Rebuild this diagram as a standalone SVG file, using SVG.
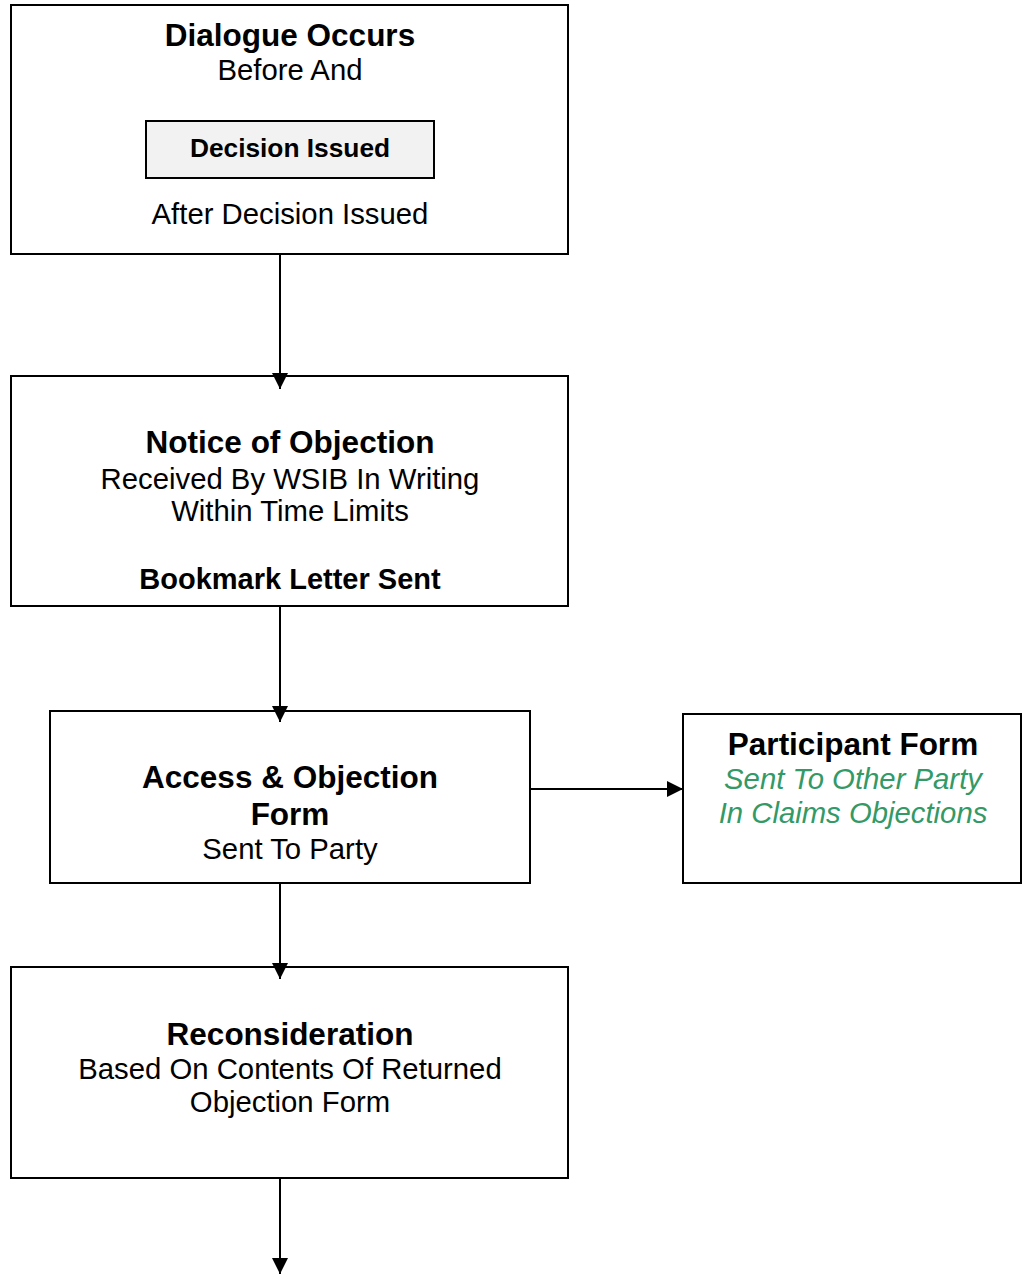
<svg xmlns="http://www.w3.org/2000/svg" width="1028" height="1274" viewBox="0 0 1028 1274">
<style>
.box{fill:#fff;stroke:#000;stroke-width:2}
.inner{fill:#f2f2f2;stroke:#000;stroke-width:2}
text{font-family:"Liberation Sans",Arial,sans-serif;text-anchor:middle;fill:#000}
.h{font-weight:bold;font-size:31.5px}
.r{font-size:29.3px}
.b{font-weight:bold;font-size:29px}
.ib{font-weight:bold;font-size:26.3px}
.g{font-style:italic;font-size:29.3px;fill:#339966}
.c{stroke:#000;stroke-width:2;fill:none}
</style>
<defs>
<marker id="ah" markerWidth="16" markerHeight="16" refX="16" refY="8" orient="auto" markerUnits="userSpaceOnUse">
<path d="M0,0 L16,8 L0,16 Z" fill="#000"/>
</marker>
</defs>
<g id="dialogue">
<rect class="box" x="11" y="5" width="557" height="249"/>
<text class="h" x="290" y="46">Dialogue Occurs</text>
<text class="r" x="290" y="80">Before And</text>
<g id="decision">
<rect class="inner" x="146" y="121" width="288" height="57"/>
<text class="ib" x="290" y="157">Decision Issued</text>
</g>
<text class="r" x="290" y="224">After Decision Issued</text>
</g>
<g id="notice">
<rect class="box" x="11" y="376" width="557" height="230"/>
<text class="h" x="290" y="453">Notice of Objection</text>
<text class="r" x="290" y="489">Received By WSIB In Writing</text>
<text class="r" x="290" y="521">Within Time Limits</text>
<text class="b" x="290" y="589">Bookmark Letter Sent</text>
</g>
<g id="access">
<rect class="box" x="50" y="711" width="480" height="172"/>
<text class="h" x="290" y="788">Access &amp; Objection</text>
<text class="h" x="290" y="825">Form</text>
<text class="r" x="290" y="859">Sent To Party</text>
</g>
<g id="participant">
<rect class="box" x="683" y="714" width="338" height="169"/>
<text class="h" x="853" y="755">Participant Form</text>
<text class="g" x="853" y="789">Sent To Other Party</text>
<text class="g" x="853" y="823">In Claims Objections</text>
</g>
<g id="reconsideration">
<rect class="box" x="11" y="967" width="557" height="211"/>
<text class="h" x="290" y="1045">Reconsideration</text>
<text class="r" x="290" y="1079">Based On Contents Of Returned</text>
<text class="r" x="290" y="1112">Objection Form</text>
</g>
<g id="connectors">
<line class="c" x1="280" y1="254" x2="280" y2="389" marker-end="url(#ah)"/>
<line class="c" x1="280" y1="606" x2="280" y2="722" marker-end="url(#ah)"/>
<line class="c" x1="280" y1="883" x2="280" y2="979" marker-end="url(#ah)"/>
<line class="c" x1="280" y1="1178" x2="280" y2="1274" marker-end="url(#ah)"/>
<line class="c" x1="530" y1="789" x2="683" y2="789" marker-end="url(#ah)"/>
</g>
</svg>
